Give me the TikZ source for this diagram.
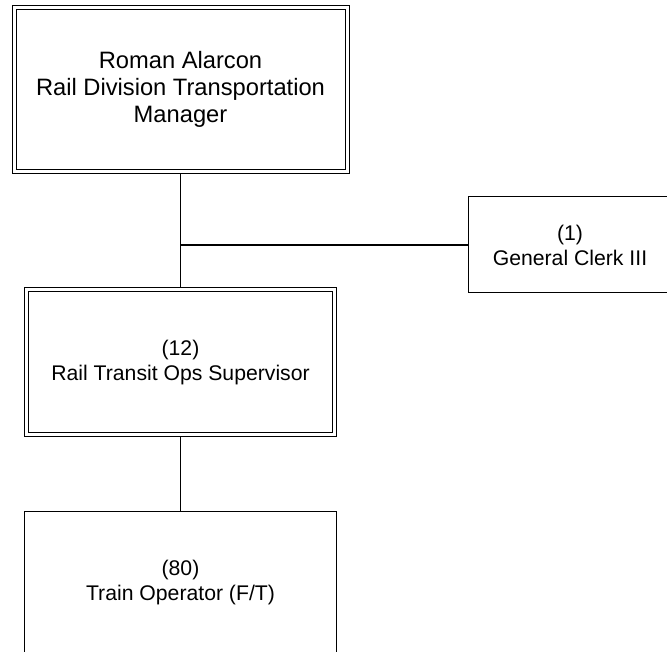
\documentclass[tikz,border=0pt]{standalone}
\usepackage{fontspec}
\setmainfont{Liberation Sans}
\usetikzlibrary{positioning}

\begin{document}
\begin{tikzpicture}[
  x=1pt, y=-1pt,
  font=\fontsize{21.2}{25}\selectfont,
  node distance=74pt,
  box/.style={
    draw,
    line width=1pt,
    align=center,
    inner sep=0pt,
    outer sep=0pt
  },
  headbox/.style={
    box,
    double,
    double distance=3pt,
    outer sep=2.5pt
  },
  orgline/.style={line width=1.2pt}
]
\useasboundingbox (0,0) rectangle (667,652);

% 1. Manager
\node[headbox,minimum width=333pt,minimum height=163.5pt,font=\fontsize{23.7}{27}\selectfont] (manager) at (180.5,89.75) {Roman Alarcon\\Rail Division Transportation\\Manager};

% 2. Clerk (side branch)
\node[box,minimum width=204pt,minimum height=96pt] (clerk) at (570,245) {(1)\\General Clerk III};

% 3. Supervisor and operators
\node[headbox,minimum width=308pt,minimum height=144.5pt,below=113.5pt of manager] (supervisor) {(12)\\Rail Transit Ops Supervisor};
\node[box,minimum width=312.5pt,minimum height=144pt,below=of supervisor] (operator) {(80)\\Train Operator (F/T)};

% Connections
\coordinate (branch) at (manager.south |- clerk.west);
\draw[orgline] (manager.south) -- (supervisor.north);
\draw[orgline] (branch) -- (clerk.west);
\draw[orgline] (supervisor.south) -- (operator.north);

\end{tikzpicture}
\end{document}
